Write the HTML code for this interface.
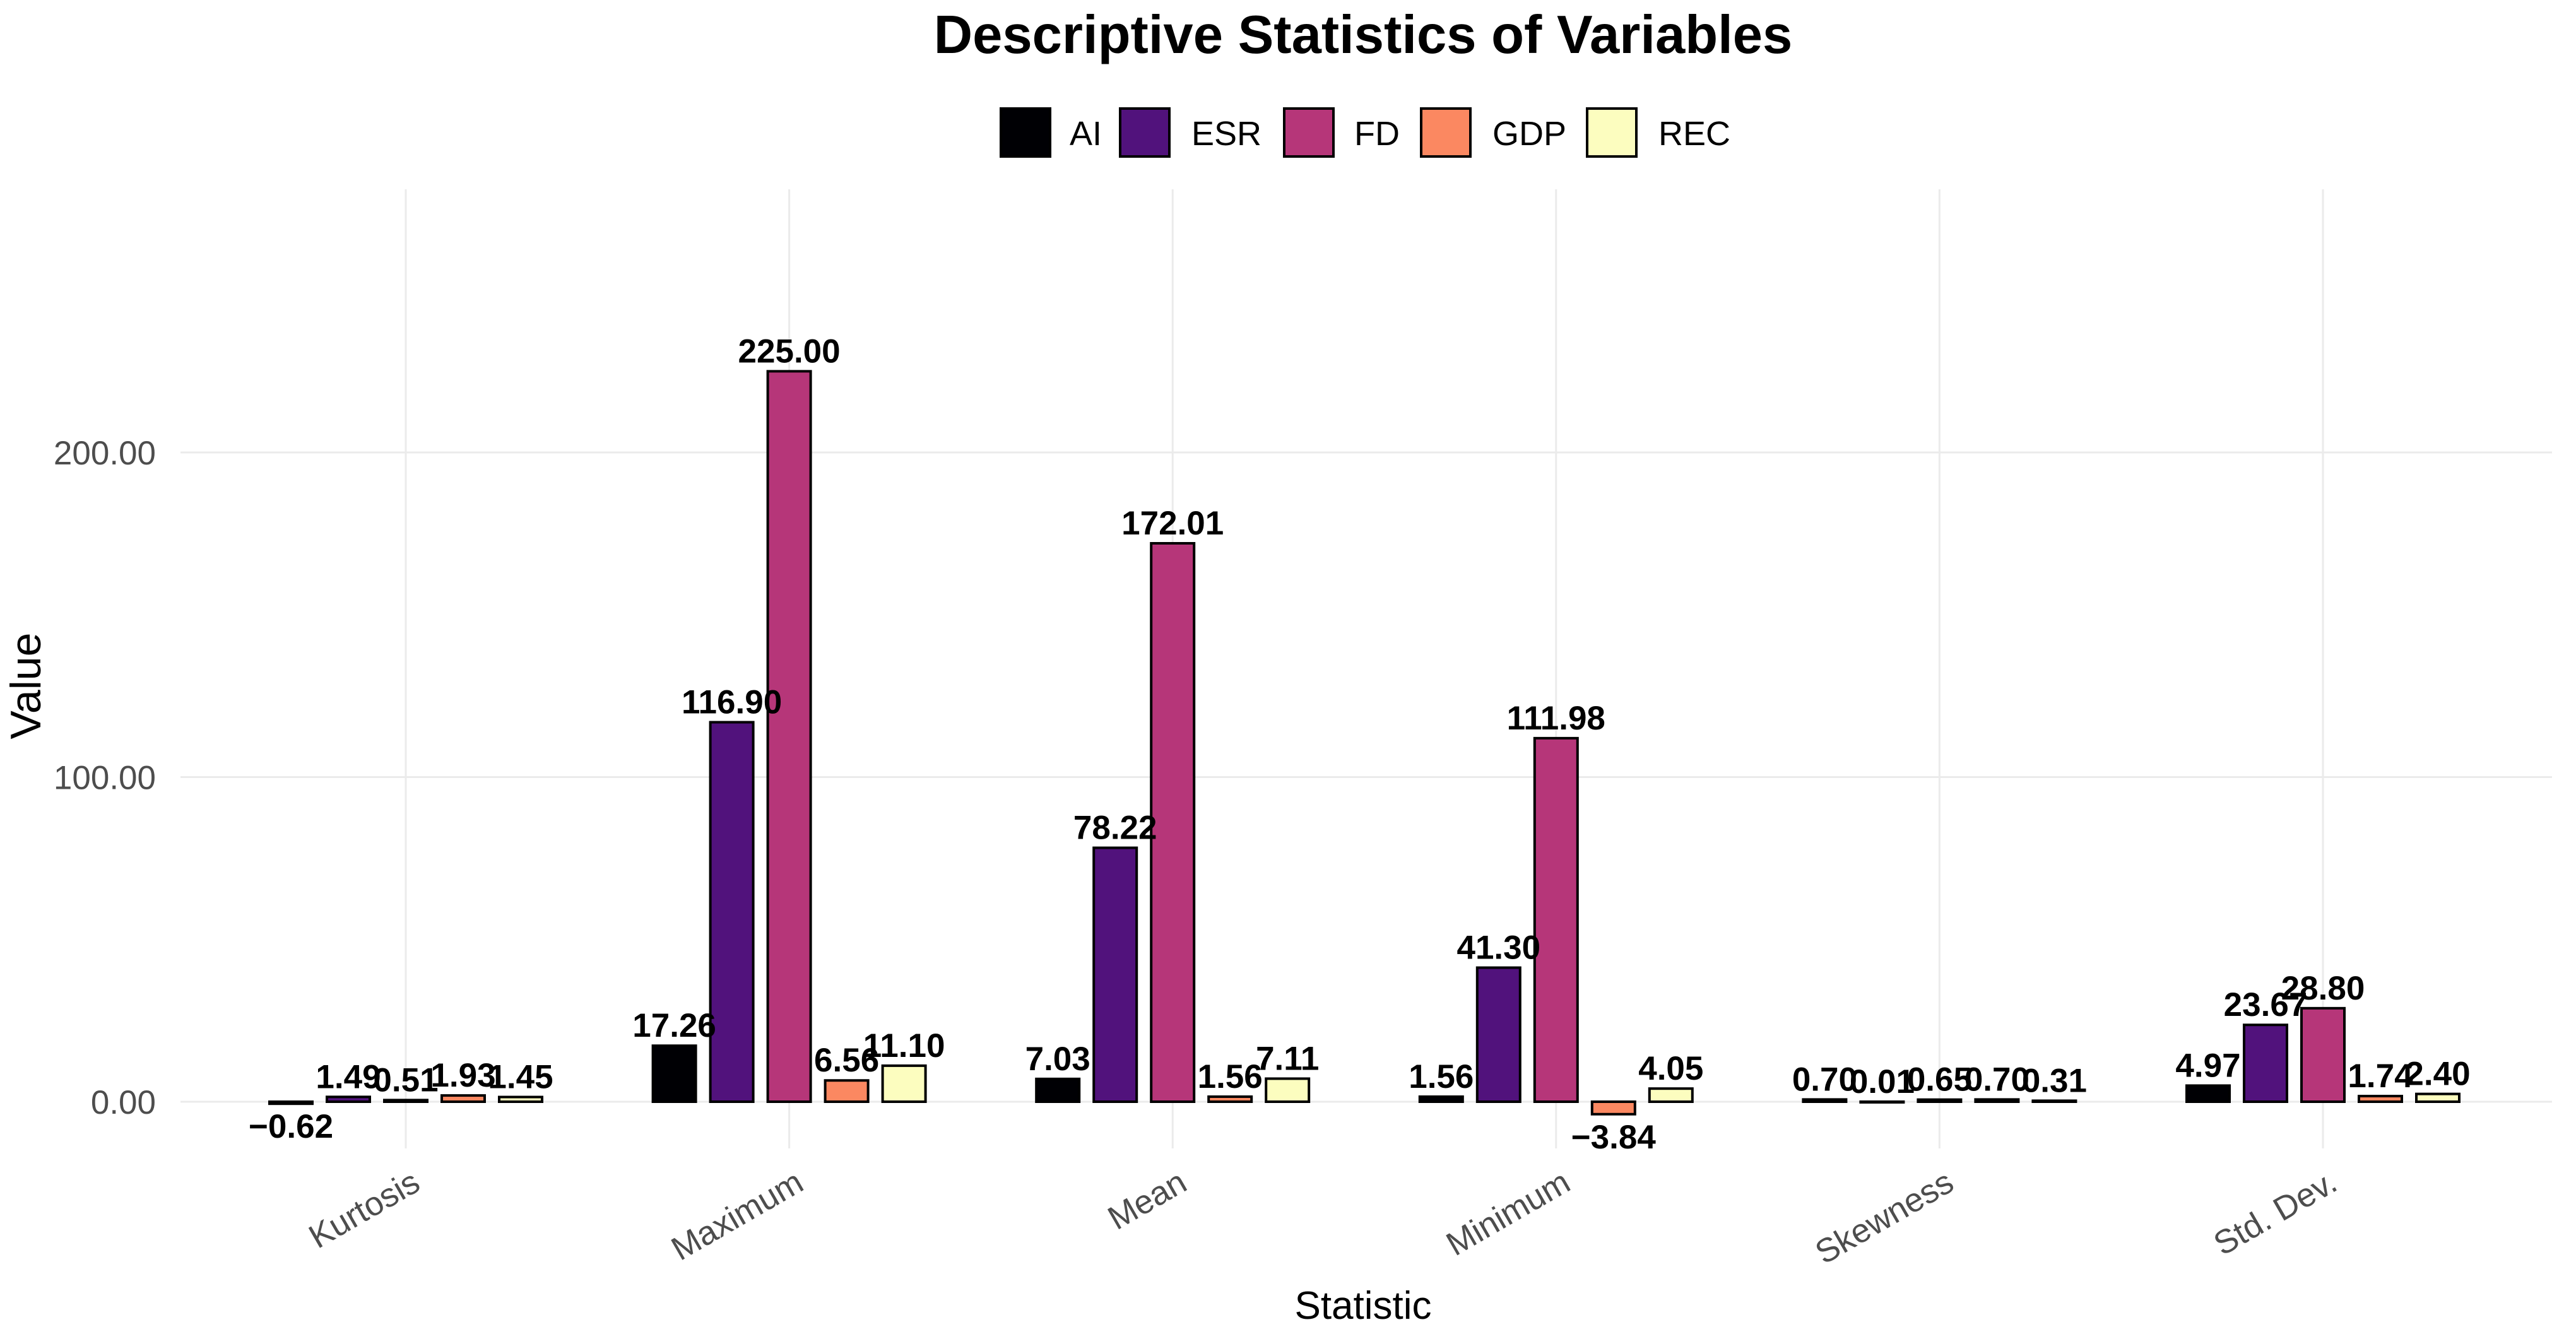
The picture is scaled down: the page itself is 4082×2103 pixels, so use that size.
<!DOCTYPE html>
<html><head><meta charset="utf-8"><style>
html,body{margin:0;padding:0;background:#fff;}
svg{display:block;font-family:"Liberation Sans",Arial,sans-serif;}
</style></head><body>
<svg id="chart" width="4082" height="2103" viewBox="0 0 4082 2103">
<text x="2160" y="84" text-anchor="middle" font-size="85" font-weight="bold" fill="#000">Descriptive Statistics of Variables</text>
<g id="legend"></g>
<g id="grid"></g>
<g id="bars"></g>
<g id="labels"></g>
<g id="yaxis"></g>
<g id="xaxis"></g>
<text transform="translate(64,1087) rotate(-90)" text-anchor="middle" font-size="68" fill="#000">Value</text>
<text x="2160" y="2090" text-anchor="middle" font-size="62" fill="#000">Statistic</text>
</svg>
<script>
const categories = ["Kurtosis","Maximum","Mean","Minimum","Skewness","Std. Dev."];
const seriesNames = ["AI","ESR","FD","GDP","REC"];
const AI  = [-0.62, 17.26, 7.03, 1.56, 0.70, 4.97];
const ESR = [1.49, 116.90, 78.22, 41.30, 0.01, 23.67];
const FD  = [0.51, 225.00, 172.01, 111.98, 0.65, 28.80];
const GDP = [1.93, 6.56, 1.56, -3.84, 0.70, 1.74];
const REC = [1.45, 11.10, 7.11, 4.05, 0.31, 2.40];
const yTicks = [0, 100, 200];
const yTickLabels = ["0.00","100.00","200.00"];

const series = [AI, ESR, FD, GDP, REC];
const colors = ["#000004","#51127C","#B63679","#FB8861","#FCFDBF"];
const NS = "http://www.w3.org/2000/svg";
const panelL = 286, panelR = 4044, panelT = 300, panelB = 1820;
const y0px = 1746, pxPerUnit = 5.145;
function yScale(v){ return y0px - v * pxPerUnit; }
const catStep = 607.6, cat0 = 643;
function xScale(i){ return cat0 + i * catStep; }
const pitch = 91, barW = 68;

function mk(tag, attrs, parent){
  const e = document.createElementNS(NS, tag);
  for (const k in attrs) e.setAttribute(k, attrs[k]);
  parent.appendChild(e);
  return e;
}
const grid = document.getElementById('grid');
yTicks.forEach((t,i)=>{
  const l = mk('line',{x1:panelL,x2:panelR,y1:yScale(t),y2:yScale(t),stroke:'#ebebeb','stroke-width':3},grid);
  
  
});
categories.forEach((c,i)=>{
  const l = mk('line',{x1:xScale(i),x2:xScale(i),y1:panelT,y2:panelB,stroke:'#ebebeb','stroke-width':3},grid);
  
  
});
const yaxis = document.getElementById('yaxis');
yTicks.forEach((t,i)=>{
  const tx = mk('text',{x:247,y:yScale(t)+19,'text-anchor':'end','font-size':53,fill:'#4d4d4d'},yaxis);
  tx.textContent = yTickLabels[i];
  
  
});
const xaxis = document.getElementById('xaxis');
categories.forEach((c,i)=>{
  const tx = mk('text',{transform:`translate(${xScale(i)+26},${1884}) rotate(-30)`,'text-anchor':'end','font-size':53,fill:'#4d4d4d'},xaxis);
  tx.textContent = c;
  
  
});
const bars = document.getElementById('bars');
const labels = document.getElementById('labels');
categories.forEach((c,i)=>{
  series.forEach((s,j)=>{
    const v = s[i];
    const cx = xScale(i) + (j-2)*pitch;
    const top = Math.min(yScale(v), yScale(0));
    const h = Math.max(Math.abs(yScale(v)-yScale(0)), 1);
    const r = mk('rect',{x:cx-barW/2,y:top,width:barW,height:h,fill:colors[j],stroke:'#000','stroke-width':4},bars);
    
    
    const ly = v >= 0 ? yScale(v) - 14 : yScale(v) + 54;
    const t = mk('text',{x:cx,y:ly,'text-anchor':'middle','font-size':53,'font-weight':'bold',fill:'#000'},labels);
    t.textContent = (v<0?'\u2212':'') + Math.abs(v).toFixed(2);
    
    
  });
});
const legend = document.getElementById('legend');
const keyX = [1584,1773,2033,2250,2513];
const labX = [1695,1888,2146,2365,2628];
seriesNames.forEach((n,j)=>{
  const r = mk('rect',{x:keyX[j]+2,y:172,width:78,height:76,fill:colors[j],stroke:'#000','stroke-width':4},legend);
  
  
  const t = mk('text',{x:labX[j],y:230,'font-size':54,fill:'#000'},legend);
  t.textContent = n;
  
  
});
</script>
</body></html>
